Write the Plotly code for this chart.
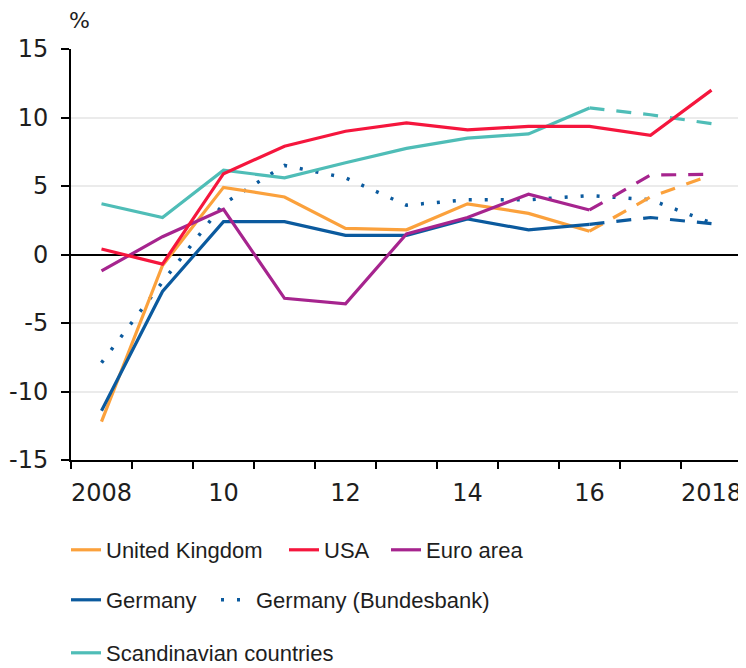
import plotly.graph_objects as go

# ---------------- data ----------------
years = list(range(2008, 2019))
uk = [-12.2, -0.8, 4.9, 4.2, 1.9, 1.8, 3.7, 3.0, 1.7, 4.2, 5.8]
usa = [0.4, -0.7, 5.9, 7.9, 9.0, 9.6, 9.1, 9.35, 9.35, 8.7, 12.0]
euro = [-1.2, 1.3, 3.3, -3.2, -3.6, 1.5, 2.7, 4.4, 3.25, 5.8, 5.85]
germany = [-11.4, -2.7, 2.4, 2.4, 1.4, 1.4, 2.6, 1.8, 2.2, 2.7, 2.25]
bundesbank = [-7.9, -2.0, 3.7, 6.5, 5.6, 3.6, 4.0, 4.0, 4.3, 4.0, 2.3]
scand = [3.7, 2.7, 6.15, 5.6, 6.7, 7.75, 8.5, 8.8, 10.7, 10.2, 9.55]
label_years = [2008, 2010, 2012, 2014, 2016, 2018]
x_labels = ["2008", "10", "12", "14", "16", "2018"]
y_ticks = [-15, -10, -5, 0, 5, 10, 15]
forecast_start = 2016

TICK_FONT = "DejaVu Sans"
LEG_FONT = "Liberation Sans"
TXT = "#1e1e1e"

# the page places the figure 8px in from the top-left corner
W, H = 738, 660

split = years.index(forecast_start)

# name, values, colour, legend, rank, dashed forecast, dotted, legendwidth
series = [
    ("Germany (Bundesbank)", bundesbank, "#0B5A9E", "legend2", 5, False, True, None),
    ("Scandinavian countries", scand, "#4FBDB7", "legend3", 6, True, False, None),
    ("United Kingdom", uk, "#FBA13C", "legend", 1, True, False, 173),
    ("Germany", germany, "#0B5A9E", "legend2", 4, True, False, 105),
    ("Euro area", euro, "#A6248E", "legend", 3, True, False, None),
    ("USA", usa, "#F5163D", "legend", 2, False, False, 57),
]

fig = go.Figure()
for name, vals, col, leg, rank, fc, dotted, lw in series:
    if dotted:
        fig.add_trace(go.Scatter(
            x=years, y=vals, mode="lines", name=name, legend=leg, legendrank=rank,
            line=dict(color=col, width=3.5, dash="3px,13px"),
            hoverinfo="skip", legendwidth=lw))
    elif fc:
        fig.add_trace(go.Scatter(
            x=years[:split + 1], y=vals[:split + 1], mode="lines", name=name,
            legend=leg, legendrank=rank, line=dict(color=col, width=3.2),
            hoverinfo="skip", legendwidth=lw))
        fig.add_trace(go.Scatter(
            x=years[split:], y=vals[split:], mode="lines", name=name,
            showlegend=False, line=dict(color=col, width=3.2, dash="15px,12px"),
            hoverinfo="skip"))
    else:
        fig.add_trace(go.Scatter(
            x=years, y=vals, mode="lines", name=name, legend=leg, legendrank=rank,
            line=dict(color=col, width=3.2), hoverinfo="skip", legendwidth=lw))

boundaries = [y - 0.5 for y in years] + [years[-1] + 0.5]

fig.update_xaxes(
    range=[boundaries[0], boundaries[-1]], automargin=False,
    tickmode="array", tickvals=label_years, ticktext=x_labels, ticks="",
    showline=True, linecolor="black", linewidth=2,
    showgrid=False, zeroline=False,
    tickfont=dict(family=TICK_FONT, size=24, color=TXT),
    ticklabelstandoff=10,
    minor=dict(tickmode="array", tickvals=boundaries, ticks="outside",
               ticklen=7, tickwidth=2, tickcolor="black", showgrid=False),
)
fig.update_yaxes(
    range=[-15, 15], tickmode="array", tickvals=y_ticks,
    ticktext=[str(v) for v in y_ticks], automargin=False,
    ticks="outside", ticklen=8, tickwidth=2, tickcolor="black",
    showline=True, linecolor="black", linewidth=2,
    showgrid=True, gridcolor="#ebebeb", gridwidth=2,
    zeroline=True, zerolinecolor="black", zerolinewidth=1.5,
    tickfont=dict(family=TICK_FONT, size=24, color=TXT),
    ticklabelstandoff=8,
)

leg_common = dict(orientation="h", xref="container", yref="container",
                  xanchor="left", yanchor="middle", bgcolor="rgba(0,0,0,0)",
                  font=dict(family=LEG_FONT, size=22, color=TXT),
                  itemwidth=30, traceorder="normal")

fig.update_layout(
    width=W, height=H,
    margin=dict(l=63, r=4, t=41, b=208),
    plot_bgcolor="white", paper_bgcolor="white",
    legend=dict(x=58 / W, y=1 - 542 / H, **leg_common),
    legend2=dict(x=58 / W, y=1 - 592 / H, **leg_common),
    legend3=dict(x=58 / W, y=1 - 645 / H, **leg_common),
    shapes=[dict(type="line", xref="paper", yref="paper", x0=1, x1=1, y0=0, y1=1,
                 xsizemode="scaled", line=dict(color="#e3e3e3", width=2),
                 layer="above")],
    annotations=[dict(text="%", xref="paper", yref="paper", x=0, y=1,
                      xanchor="left", yanchor="bottom", xshift=-4, yshift=14,
                      showarrow=False,
                      font=dict(family=TICK_FONT, size=22, color=TXT))],
)

fig.write_html("out.html")
